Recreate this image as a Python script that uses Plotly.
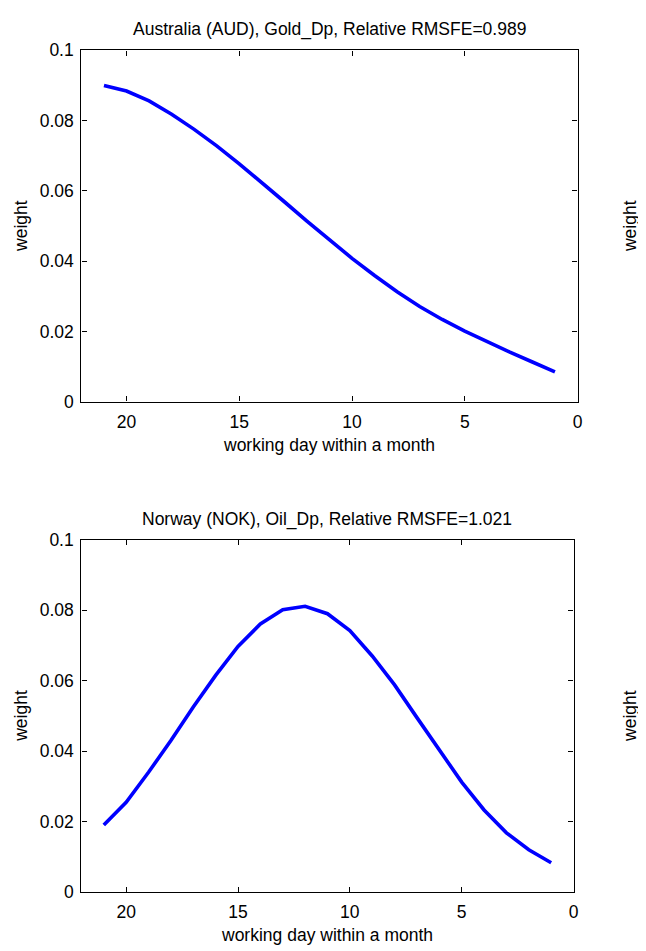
import plotly.graph_objects as go

# target page size and the browser's default body margin (figure sits 8px in)
PW, PH = 646, 951
OFF = 8
FW, FH = PW - OFF, PH - OFF

days = list(range(21, 0, -1))
aud_weight = [0.0900, 0.0884, 0.0856, 0.0818, 0.0775, 0.0728, 0.0677, 0.0624, 0.0569, 0.0514,
              0.0460, 0.0408, 0.0359, 0.0313, 0.0271, 0.0234, 0.0201, 0.0170, 0.0141, 0.0113, 0.0085]
nok_weight = [0.0190, 0.0255, 0.0340, 0.0430, 0.0525, 0.0615, 0.0697, 0.0761, 0.0801, 0.0811,
              0.0790, 0.0742, 0.0670, 0.0588, 0.0495, 0.0402, 0.0312, 0.0233, 0.0168, 0.0120, 0.0083]

titles = ["Australia (AUD), Gold_Dp, Relative RMSFE=0.989",
          "Norway (NOK), Oil_Dp, Relative RMSFE=1.021"]
xlabel = "working day within a month"
ylabel = "weight"
xticks = [20, 15, 10, 5, 0]
yticks = [0, 0.02, 0.04, 0.06, 0.08, 0.1]
ytick_text = ["0", "0.02", "0.04", "0.06", "0.08", "0.1"]

FONT = "Liberation Sans, Arial, Helvetica, sans-serif"
FS = 17.5


def fx(px):
    return (px - OFF) / FW


def fy(py):
    return 1 - (py - OFF) / FH


fig = go.Figure()

# page-pixel boxes: (left, right, top, bottom)
boxes = [(82, 582, 41, 400), (82, 578, 541, 901)]
series = [aud_weight, nok_weight]

for i, (box, vals) in enumerate(zip(boxes, series)):
    l, r, t, b = box
    xa = "x" if i == 0 else "x2"
    ya = "y" if i == 0 else "y2"
    fig.add_trace(go.Scatter(x=days, y=vals, mode="lines", xaxis=xa, yaxis=ya,
                             line=dict(color="#0000ff", width=3.6), showlegend=False,
                             hoverinfo="skip"))
    axis_common = dict(showgrid=False, zeroline=False, showline=True, linecolor="black",
                       linewidth=1.4, mirror="ticks", ticks="inside", ticklen=5,
                       tickcolor="black", tickwidth=1,
                       tickfont=dict(family=FONT, size=FS, color="black"))
    xkey = "xaxis" if i == 0 else "xaxis2"
    ykey = "yaxis" if i == 0 else "yaxis2"
    fig.update_layout({
        xkey: dict(domain=[fx(l), fx(r)], range=[22, 0], tickvals=xticks,
                   anchor=ya, ticklabelstandoff=4, **axis_common),
        ykey: dict(domain=[fy(b), fy(t)], range=[0, 0.1], tickvals=yticks,
                   ticktext=ytick_text, anchor=xa, ticklabelstandoff=3, **axis_common),
    })
    cx = fx((l + r) / 2)
    fig.add_annotation(text=titles[i], x=cx, y=fy(t - 21), xref="paper", yref="paper",
                       showarrow=False, font=dict(family=FONT, size=FS, color="black"),
                       xanchor="center", yanchor="middle")
    fig.add_annotation(text=xlabel, x=cx, y=fy(b + 44), xref="paper", yref="paper",
                       showarrow=False, font=dict(family=FONT, size=FS, color="black"),
                       xanchor="center", yanchor="middle")
    fig.add_annotation(text=ylabel, x=fx(21), y=fy((t + b) / 2), xref="paper", yref="paper",
                       showarrow=False, textangle=-90,
                       font=dict(family=FONT, size=FS, color="black"),
                       xanchor="center", yanchor="middle")
    # y label of the neighbouring (cropped) panel on the right
    fig.add_annotation(text=ylabel, x=fx(635), y=fy((t + b) / 2), xref="paper", yref="paper",
                       showarrow=False, textangle=-90,
                       font=dict(family=FONT, size=FS, color="black"),
                       xanchor="center", yanchor="middle")

fig.update_layout(width=FW, height=FH, margin=dict(l=0, r=0, t=0, b=0),
                  paper_bgcolor="white", plot_bgcolor="white",
                  font=dict(family=FONT, size=FS, color="black"))

fig.write_html("out.html")
